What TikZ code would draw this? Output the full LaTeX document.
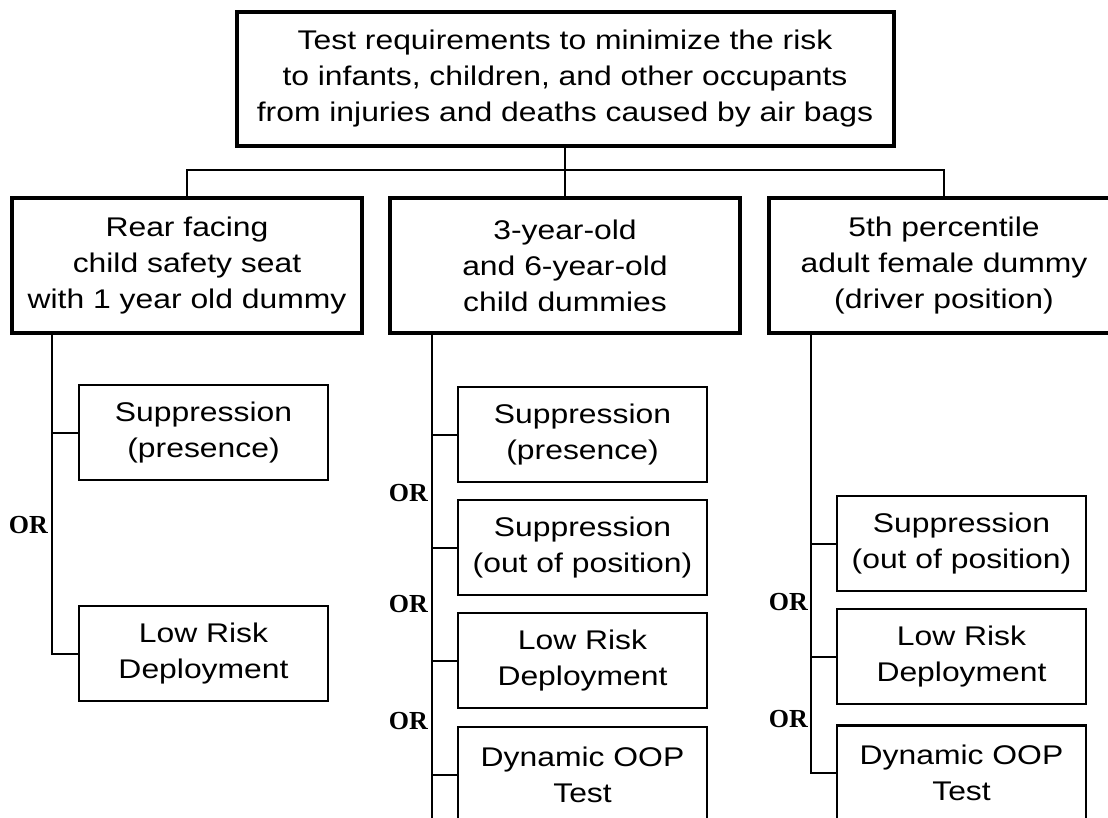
\documentclass[tikz,border=0pt]{standalone}
\usepackage{fontspec}
\setmainfont{Liberation Sans}[FakeStretch=1.18]
\newfontfamily\orfont{Liberation Serif}
\usepackage{tikz}

\begin{document}
\begin{tikzpicture}[x=1pt,y=-1pt]
            \tikzstyle{every node}+=[inner sep=0pt, align=center, font=\fontsize{27}{36}\selectfont]
            \tikzstyle{mainbox}=[draw, line width=4pt, minimum width=350pt, minimum height=135pt]
            \tikzstyle{testbox}=[draw, line width=2.2pt, minimum width=249pt, minimum height=95pt]
            \tikzstyle{orlabel}=[anchor=east, font=\orfont\bfseries\fontsize{26}{26}\selectfont]
            \tikzstyle{link}=[line width=2pt]
            \path [use as bounding box, clip] (0,0) rectangle (1108,817);
            \node [mainbox, minimum width=657pt, minimum height=134pt] (req) at (565,79) {Test requirements to minimize the risk\\to infants, children, and other occupants\\from injuries and deaths caused by air bags};
            \node [mainbox] (rear) at (187,265.5) {Rear facing\\child safety seat\\with 1 year old dummy};
            \node [mainbox] (kids) at (565,265.5) {3-year-old\\and 6-year-old\\child dummies};
            \node [mainbox] (adult) at (944,265.5) {5th percentile\\adult female dummy\\(driver position)};
            \draw [link] (req) -- (kids);
            \draw [link] (rear.north) -- ++(0,-26) -| (adult.north);
            \node [testbox] (rsupp) at (203.5,432.5) {Suppression\\(presence)};
            \node [testbox] (rlow) at (203.5,653.5) {Low Risk\\Deployment};
            \node [testbox] (ksupp) at (582.5,434.5) {Suppression\\(presence)};
            \node [testbox] (kpos) at (582.5,547.5) {Suppression\\(out of position)};
            \node [testbox] (klow) at (582.5,660.5) {Low Risk\\Deployment};
            \node [testbox] (koop) at (582.5,774.5) {Dynamic OOP\\Test};
            \node [testbox] (apos) at (961.5,543.5) {Suppression\\(out of position)};
            \node [testbox] (alow) at (961.5,656.5) {Low Risk\\Deployment};
            \node [testbox] (aoop) at (961.5,773) {Dynamic OOP\\Test};
            \draw [link] ([xshift=-135pt]rear.south) |- (rlow.west);
            \draw [link] (rsupp.west) -- ++(-27,0);
            \coordinate (kbase) at (432,830);
            \draw [link] (kbase |- kids.south) -- (kbase);
            \foreach \n in {ksupp,kpos,klow,koop}
                \draw [link] (\n.west) -- (\n.west -| kbase);
            \draw [link] ([xshift=-133pt]adult.south) |- (aoop.west);
            \draw [link] (apos.west) -- ++(-26,0);
            \draw [link] (alow.west) -- ++(-26,0);
            \node [orlabel] (or1) at (48,525) {OR};
            \node [orlabel] (or2) at (428,493) {OR};
            \node [orlabel] (or3) at (428,604) {OR};
            \node [orlabel] (or4) at (428,721) {OR};
            \node [orlabel] (or5) at (808,602) {OR};
            \node [orlabel] (or6) at (808,719) {OR};
\end{tikzpicture}
\end{document}
